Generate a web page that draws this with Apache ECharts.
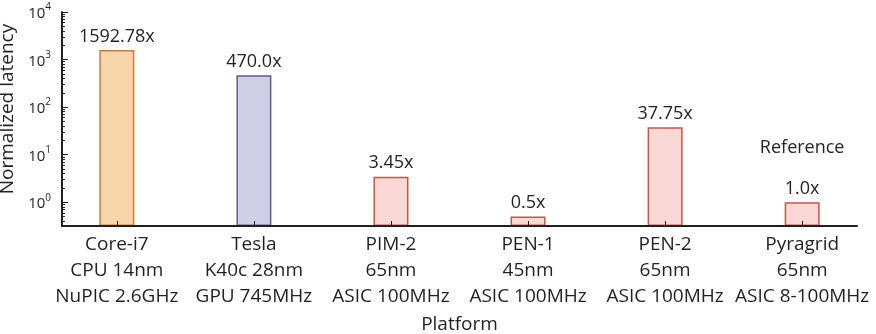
<!DOCTYPE html>
<html>
<head>
<meta charset="utf-8">
<script src="https://cdn.jsdelivr.net/npm/echarts@6/dist/echarts.min.js"></script>
<style>
  html, body { margin: 0; padding: 0; background: #fff; }
  #chart { width: 876px; height: 334px; }
</style>
</head>
<body>
<div id="chart"></div>
<script>
// Platforms along the x axis (three text lines each)
const platforms = [
  'Core-i7\nCPU 14nm\nNuPIC 2.6GHz',
  'Tesla\nK40c 28nm\nGPU 745MHz',
  'PIM-2\n65nm\nASIC 100MHz',
  'PEN-1\n45nm\nASIC 100MHz',
  'PEN-2\n65nm\nASIC 100MHz',
  'Pyragrid\n65nm\nASIC 8-100MHz'
];
// Normalized latency relative to Pyragrid
const latency = [1592.78, 470.0, 3.45, 0.5, 37.75, 1.0];
// Extra caption above a bar
const notes = ['', '', '', '', '', 'Reference'];
// Major and minor tick values of the log axis
const majorTicks = [1, 10, 100, 1000, 10000];
const minorTicks = [0.4, 0.5, 0.6, 0.7, 0.8, 0.9,
  2, 3, 4, 5, 6, 7, 8, 9,
  20, 30, 40, 50, 60, 70, 80, 90,
  200, 300, 400, 500, 600, 700, 800, 900,
  2000, 3000, 4000, 5000, 6000, 7000, 8000, 9000];

const fills   = ['#f9d6a9', '#d1cfe5', '#f9d8d5', '#f9d8d5', '#f9d8d5', '#f9d8d5'];
const borders = ['#c97a3c', '#5e5a9a', '#c4564b', '#c4564b', '#c4564b', '#c4564b'];

const INK = '#231f20';
const FONT = 'Open Sans';
const yMin = Math.pow(10, -0.5);
const yMax = 10000;

function fmtValue(v) {
  return (Number.isInteger(v) ? v.toFixed(1) : String(v)) + 'x';
}

const chart = echarts.init(document.getElementById('chart'));

chart.setOption({
  animation: false,
  backgroundColor: '#fff',
  textStyle: { fontFamily: FONT, color: INK },
  grid: { left: 62, right: 19, top: 12, bottom: 108, containLabel: false, outerBoundsMode: 'none' },
  xAxis: {
    type: 'value',
    min: 0.6,
    max: 6.4,
    z: 5,
    name: 'Platform',
    nameLocation: 'middle',
    nameGap: 86,
    nameTextStyle: { fontFamily: FONT, fontSize: 19, lineHeight: 19, color: INK },
    axisLine: { show: true, onZero: false, lineStyle: { color: INK, width: 2 } },
    axisTick: {
      show: true, inside: true, length: 5,
      customValues: platforms.map((_, i) => i + 1),
      lineStyle: { color: INK, width: 1 }
    },
    axisLabel: {
      customValues: platforms.map((_, i) => i + 1),
      formatter: v => platforms[Math.round(v) - 1] || '',
      margin: 6,
      fontFamily: FONT, fontSize: 19, lineHeight: 26, color: INK
    },
    splitLine: { show: false }
  },
  yAxis: [{
    type: 'log',
    min: yMin,
    max: yMax,
    startValue: yMin,
    z: 5,
    name: 'Normalized latency',
    nameLocation: 'middle',
    nameRotate: 90,
    nameGap: 38,
    nameTextStyle: { fontFamily: FONT, fontSize: 19, lineHeight: 19, color: INK, padding: [0, 0, 0, 20] },
    axisLine: { show: true, lineStyle: { color: INK, width: 2 } },
    axisTick: {
      show: true, inside: true, length: 6,
      customValues: majorTicks,
      lineStyle: { color: INK, width: 1 }
    },
    axisLabel: {
      customValues: majorTicks,
      margin: 11,
      fontFamily: FONT, fontSize: 15, color: INK,
      formatter: v => '{b|10}{s|' + Math.round(Math.log10(v)) + '}',
      rich: {
        b: { fontFamily: FONT, fontSize: 15, lineHeight: 15, color: INK, padding: [4, 0, 0, 0] },
        s: { fontFamily: FONT, fontSize: 10, lineHeight: 10, color: INK, padding: [0, 0, 9, 0] }
      }
    },
    splitLine: { show: false }
  }, {
    // minor ticks, shifted so they sit on the inner side of the axis line
    type: 'log',
    min: yMin,
    max: yMax,
    position: 'left',
    offset: -3,
    z: 5,
    axisLine: { show: false },
    axisTick: {
      show: true, inside: false, length: 3,
      customValues: minorTicks,
      lineStyle: { color: INK, width: 1 }
    },
    axisLabel: { show: false },
    splitLine: { show: false }
  }],
  series: [{
    type: 'bar',
    yAxisIndex: 0,
    barWidth: 35,
    z: 2,
    data: latency.map((v, i) => ({
      value: [i + 1, v],
      itemStyle: { color: fills[i], borderColor: borders[i], borderWidth: 1.5 }
    })),
    label: {
      show: true,
      position: 'top',
      distance: 4,
      formatter: p => {
        const i = p.dataIndex;
        const val = '{v|' + fmtValue(latency[i]) + '}';
        return notes[i] ? '{n|' + notes[i] + '}\n' + val : val;
      },
      rich: {
        v: { fontFamily: FONT, fontSize: 18, lineHeight: 19, color: INK },
        n: { fontFamily: FONT, fontSize: 18, lineHeight: 62, color: INK }
      }
    }
  }]
});
</script>
</body>
</html>
